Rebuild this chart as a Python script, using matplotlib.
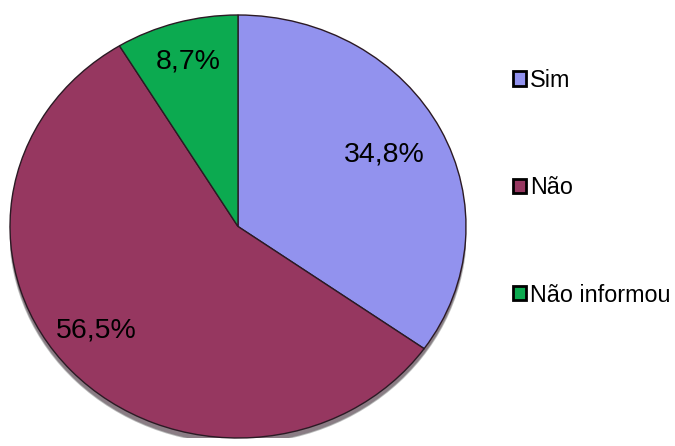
import matplotlib.pyplot as plt
from matplotlib.patches import Patch, Ellipse

# Data
categories = ['Sim', 'Não', 'Não informou']
shares = [34.8, 56.5, 8.7]
colors = ['#9292EE', '#963760', '#0CAA50']

plt.rcParams['font.family'] = ['Liberation Sans', 'DejaVu Sans']

W, H = 675, 446
fig = plt.figure(figsize=(W / 100, H / 100), dpi=100)

# pie occupies x 10..466, y 15..438 (pixels)
ax = fig.add_axes([10 / W, (H - 438) / H, 456 / W, 423 / H])

# soft drop shadow behind the pie
shadow = Ellipse((0.0, -0.025), 2.0, 2.0, facecolor='#2a1020', alpha=0.55,
                 edgecolor='#888888', linewidth=1.2, zorder=0)
ax.add_patch(shadow)

wedges, texts, autotexts = ax.pie(
    shares, colors=colors, startangle=90, counterclock=False,
    autopct=lambda p: f'{p:.1f}%'.replace('.', ','),
    pctdistance=0.77, radius=1.0,
    wedgeprops=dict(edgecolor='#2b1a24', linewidth=1.0),
    textprops=dict(fontsize=20.5, color='black'))

# nudge labels to where they sit in the original
autotexts[0].set_position((0.64, 0.34))
autotexts[1].set_position((-0.62, -0.49))
autotexts[2].set_position((-0.22, 0.78))

ax.set_aspect('auto')
ax.set_xlim(-1, 1)
ax.set_ylim(-1, 1)
ax.axis('off')

handles = [Patch(facecolor=c, edgecolor='black', linewidth=2) for c in colors]
fig.legend(handles, categories, loc='upper left',
           bbox_to_anchor=(501 / W, 1 - 57 / H), frameon=False,
           fontsize=16.8, handlelength=0.56, handleheight=0.56,
           handletextpad=0.18, labelspacing=3.62, borderpad=0)

fig.savefig('out.png', dpi=100)
